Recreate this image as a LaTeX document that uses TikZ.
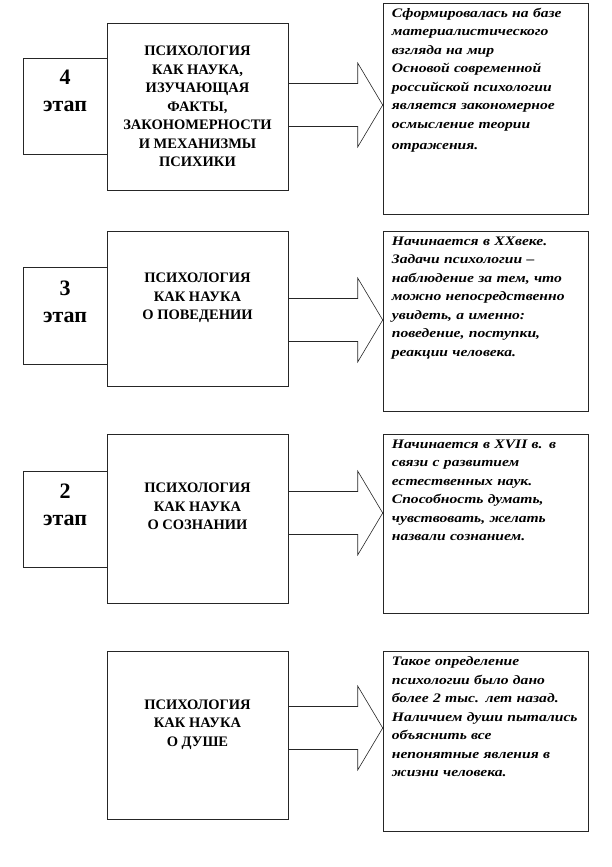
\documentclass[tikz,border=0pt]{standalone}
\usepackage{fontspec}
\setmainfont{Liberation Serif}
\newfontfamily\widefont[FakeStretch=1.2]{Liberation Serif}
\usetikzlibrary{positioning,calc}

\tikzset{
  frame/.style={draw=black!85, line width=0.6pt, inner sep=0pt},
  sbox/.style={frame, minimum width=84pt, minimum height=96pt},
  snum/.style={align=center, inner sep=0pt, font=\bfseries\fontsize{22}{27}\selectfont},
  bbox/.style={frame, minimum width=181pt, align=center,
    font=\bfseries\fontsize{14.5}{18.5}\selectfont},
  rbox/.style={frame, minimum width=205pt},
  rtext/.style={inner sep=0pt, text width=215pt, align=left,
    font=\widefont\bfseries\itshape\fontsize{13}{18.5}\selectfont},
  barrow/.style={draw=black!85, line width=0.6pt, line join=miter}
}

\begin{document}
\begin{tikzpicture}[x=1pt,y=-1pt]
  \useasboundingbox (0,0) rectangle (612,867);

  % 4 этап
  \node[bbox, minimum height=167pt] (b4) at (197.5,106.5)
    {ПСИХОЛОГИЯ\\КАК НАУКА,\\ИЗУЧАЮЩАЯ\\ФАКТЫ,\\ЗАКОНОМЕРНОСТИ\\И МЕХАНИЗМЫ\\ПСИХИКИ};
  \node[sbox] (s4) at (65,106) {};
  \node[snum] (s4t) at ($(s4)+(0,-15)$) {4\\этап};
  \node[rbox, minimum height=211pt] (r4) at (485.5,108.5) {};
  \node[rtext, below right=5pt and 9pt of r4.north west] (r4t)
    {Сформировалась на базе\\материалистического\\взгляда на мир\\Основой современной\\российской психологии\\является закономерное\\осмысление теории\\[3pt]отражения.};
  \coordinate (t4) at (385,105);

  % 3 этап
  \node[bbox, minimum height=155pt] (b3) at (197.5,308.5)
    {ПСИХОЛОГИЯ\\КАК НАУКА\\О ПОВЕДЕНИИ\\[6pt]};
  \node[sbox, minimum height=97pt] (s3) at (65,315.5) {};
  \node[snum] (s3t) at ($(s3)+(0,-14)$) {3\\этап};
  \node[rbox, minimum height=180pt] (r3) at (485.5,321) {};
  \node[rtext, below right=6pt and 9pt of r3.north west] (r3t)
    {Начинается в XXвеке.\\Задачи психологии –\\наблюдение за тем, что\\можно непосредственно\\увидеть, а именно:\\поведение, поступки,\\реакции человека.};
  \coordinate (t3) at (385,320);

  % 2 этап
  \node[bbox, minimum height=169pt] (b2) at (197.5,518.5)
    {ПСИХОЛОГИЯ\\КАК НАУКА\\О СОЗНАНИИ\\[6pt]};
  \node[sbox] (s2) at (65,519) {};
  \node[snum] (s2t) at ($(s2)+(0,-14)$) {2\\этап};
  \node[rbox, minimum height=179pt] (r2) at (485.5,523.5) {};
  \node[rtext, below right=6pt and 9pt of r2.north west] (r2t)
    {Начинается в XVII в. в\\связи с развитием\\естественных наук.\\Способность думать,\\чувствовать, желать\\назвали сознанием.};
  \coordinate (t2) at (385,513);

  % 1 этап
  \node[bbox, minimum height=168pt] (b1) at (197.5,735)
    {ПСИХОЛОГИЯ\\КАК НАУКА\\О ДУШЕ\\[6pt]};
  \node[rbox, minimum height=180pt] (r1) at (485.5,741) {};
  \node[rtext, below right=6pt and 9pt of r1.north west] (r1t)
    {Такое определение\\психологии было дано\\более 2 тыс. лет назад.\\Наличием души пытались\\объяснить все\\непонятные явления в\\жизни человека.};
  \coordinate (t1) at (385,728);

  % block arrows
  \foreach \b/\r/\t in {b4/r4/t4,b3/r3/t3,b2/r2/t2,b1/r1/t1}
    \draw[barrow] ($(\b.east|-\t)+(0,-21.5)$) -- ($(\r.west|-\t)+(-25,-21.5)$)
      -- ++(0,-20.5) -- (\r.west|-\t) -- ++(-25,42) -- ++(0,-20.5)
      -- ($(\b.east|-\t)+(0,21.5)$);
\end{tikzpicture}
\end{document}
